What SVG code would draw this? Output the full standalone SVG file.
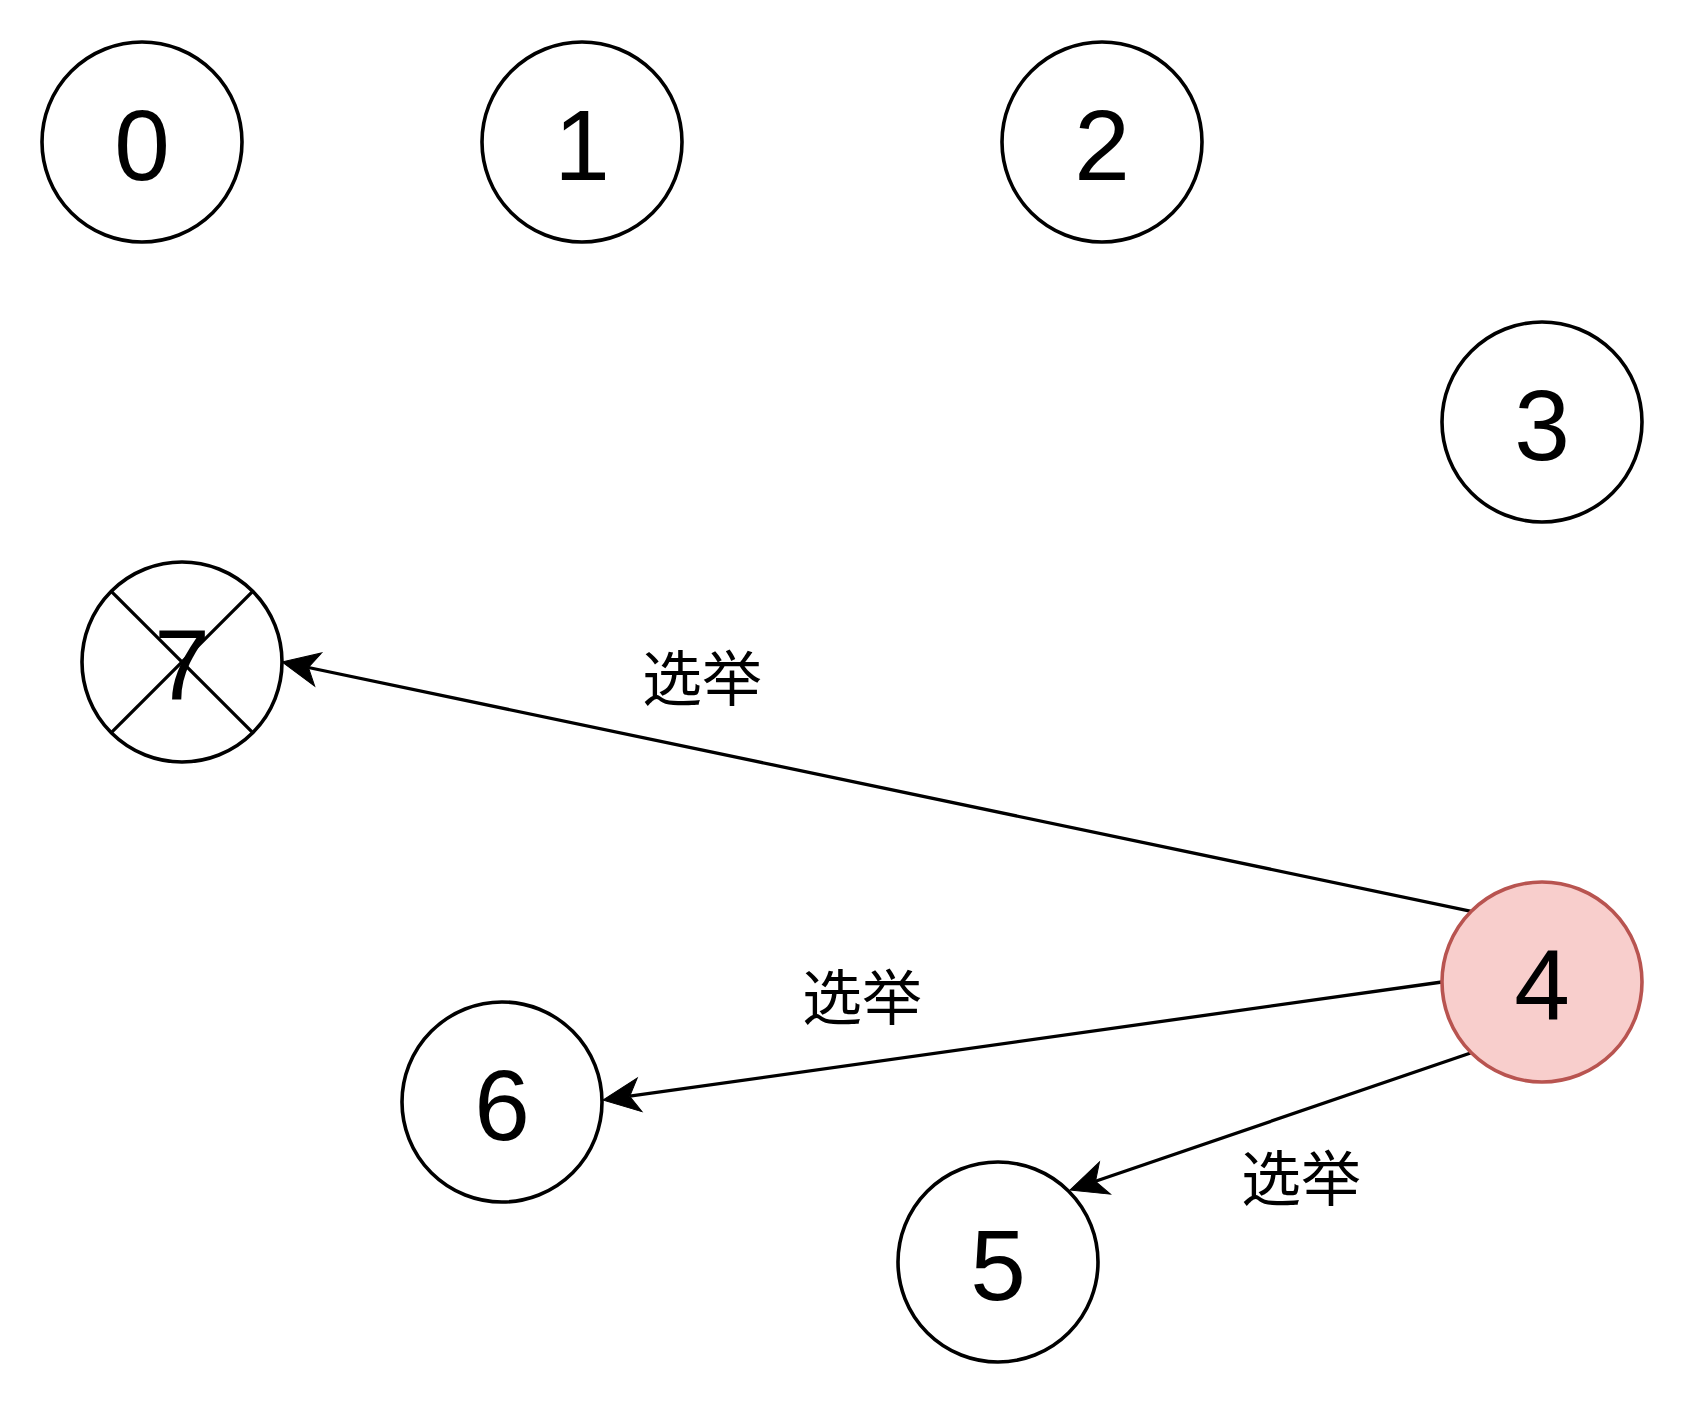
<svg xmlns="http://www.w3.org/2000/svg" width="1688" height="1404" viewBox="0 0 1688 1404">
<style>
.node{fill:#ffffff;stroke:#000000;stroke-width:3.6}
.hot{fill:#f8cecc;stroke:#b85450;stroke-width:3.6}
.num{font-family:"Liberation Sans","Noto Sans CJK SC",sans-serif;font-size:100px;text-anchor:middle;fill:#000}
.edge{fill:none;stroke:#000;stroke-width:3.3}
.lbl{font-family:"Liberation Sans","Noto Sans CJK SC",sans-serif;font-size:60px;text-anchor:middle;dominant-baseline:central;fill:#000}
.cross{stroke:#000;stroke-width:3.3}
</style>
<defs>
<marker id="arr" markerUnits="userSpaceOnUse" viewBox="-12 -19 42 38" markerWidth="42" markerHeight="38" refX="0" refY="0" orient="auto">
<path d="M27,0 L-10,-17 L0,0 L-10,17 Z" fill="#000" stroke="#000" stroke-width="1"/>
</marker>
</defs>
<rect width="1688" height="1404" fill="#ffffff"/>
<g id="edges">
<line class="edge" x1="1471.3" y1="911.3" x2="308.4" y2="667.5" marker-end="url(#arr)"/>
<line class="edge" x1="1442" y1="982" x2="629.7" y2="1096.2" marker-end="url(#arr)"/>
<line class="edge" x1="1471.3" y1="1052.7" x2="1095.5" y2="1181.3" marker-end="url(#arr)"/>
<text class="lbl" x="702" y="680">选举</text>
<text class="lbl" x="862" y="999">选举</text>
<text class="lbl" x="1301" y="1180">选举</text>
</g>
<g id="node0"><circle class="node" cx="142" cy="142" r="100"/><text class="num" x="142" y="180">0</text></g>
<g id="node1"><circle class="node" cx="582" cy="142" r="100"/><text class="num" x="582" y="180">1</text></g>
<g id="node2"><circle class="node" cx="1102" cy="142" r="100"/><text class="num" x="1102" y="180">2</text></g>
<g id="node3"><circle class="node" cx="1542" cy="422" r="100"/><text class="num" x="1542" y="460">3</text></g>
<g id="node4"><circle class="hot" cx="1542" cy="982" r="100"/><text class="num" x="1542" y="1020">4</text></g>
<g id="node5"><circle class="node" cx="998" cy="1262" r="100"/><text class="num" x="998" y="1300">5</text></g>
<g id="node6"><circle class="node" cx="502" cy="1102" r="100"/><text class="num" x="502" y="1140">6</text></g>
<g id="node7"><circle class="node" cx="182" cy="662" r="100"/><line class="cross" x1="111.3" y1="591.3" x2="252.7" y2="732.7"/><line class="cross" x1="252.7" y1="591.3" x2="111.3" y2="732.7"/><text class="num" x="182" y="700">7</text></g>
</svg>
